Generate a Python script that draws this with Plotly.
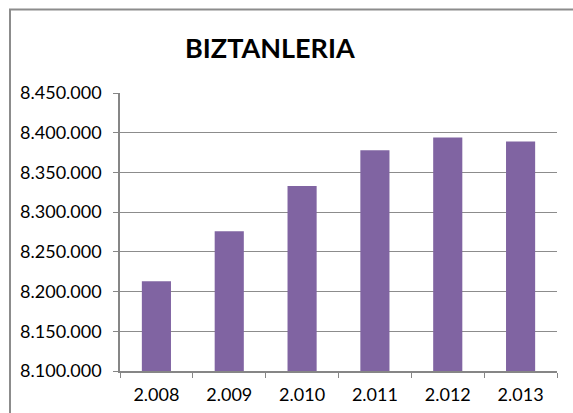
import plotly.graph_objects as go

years = ["2.008", "2.009", "2.010", "2.011", "2.012", "2.013"]
population = [8213000, 8276000, 8333000, 8378000, 8394000, 8389000]
y_ticks = [8100000, 8150000, 8200000, 8250000, 8300000, 8350000, 8400000, 8450000]

W, H = 573, 413
L, R, T, B = 120, 557, 93.3, 371
pw, ph = R - L, B - T

def px_x(x):
    return (x - L) / pw

def px_y(y):
    return (B - y) / ph

fig = go.Figure(go.Bar(x=years, y=population, marker=dict(color="#8064A2", line=dict(width=0))))

font = "Lato, 'Liberation Sans', sans-serif"

fig.update_layout(
    width=W, height=H,
    margin=dict(l=L, r=W - R, t=T, b=H - B, pad=0),
    paper_bgcolor="white", plot_bgcolor="white",
    separators=",.",
    bargap=0.6,
    showlegend=False,
    font=dict(family=font, size=18, color="#000000"),
    xaxis=dict(
        type="category", tickson="boundaries", ticks="outside", ticklen=5,
        tickcolor="#868686", showline=True, linecolor="#868686", linewidth=1.5,
        showgrid=False, tickfont=dict(size=18, family=font), ticklabelstandoff=7,
        automargin=False,
    ),
    yaxis=dict(
        range=[8100000, 8450000], tickvals=y_ticks, tickformat=",d",
        ticks="outside", ticklen=5, tickcolor="#868686",
        showline=True, linecolor="#868686", linewidth=1.5,
        showgrid=True, gridcolor="#8c8c8c", gridwidth=1,
        tickfont=dict(size=18, family=font), ticklabelstandoff=8,
        zeroline=False, automargin=False,
    ),
    annotations=[dict(
        text="<b>BIZTANLERIA</b>", xref="paper", yref="paper",
        x=px_x(269.5), y=px_y(48), xanchor="center", yanchor="middle",
        showarrow=False, font=dict(size=27, family=font, color="#000000"),
    )],
    shapes=[dict(
        type="rect", xref="paper", yref="paper",
        x0=px_x(10), x1=px_x(620), y0=px_y(460), y1=px_y(10),
        line=dict(color="#8c8c8c", width=2), fillcolor="rgba(0,0,0,0)", layer="below",
    )],
)

fig.write_html("out.html", config={"displayModeBar": False},
               post_script="document.body.style.margin='0';document.body.style.overflow='hidden';")
